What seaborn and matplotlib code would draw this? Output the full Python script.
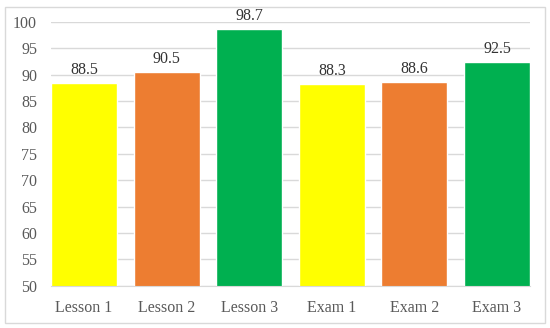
import matplotlib
matplotlib.use("Agg")
import matplotlib.pyplot as plt
import seaborn as sns
import pandas as pd
from matplotlib.patches import Rectangle

# Chart data
categories = ["Lesson 1", "Lesson 2", "Lesson 3", "Exam 1", "Exam 2", "Exam 3"]
scores = [88.5, 90.5, 98.7, 88.3, 88.6, 92.5]
bar_colors = ["#FFFF00", "#ED7D31", "#00B050", "#FFFF00", "#ED7D31", "#00B050"]
y_ticks = [50, 55, 60, 65, 70, 75, 80, 85, 90, 95, 100]

df = pd.DataFrame({"item": categories, "score": scores})

sns.set_style("white")
plt.rcParams["font.family"] = ["Liberation Serif", "DejaVu Serif"]

fig = plt.figure(figsize=(5.5, 3.28), dpi=100)
ax = fig.add_axes([0.0927, 0.129, 0.871, 0.804])

sns.barplot(data=df, x="item", y="score", hue="item", palette=bar_colors,
            legend=False, width=0.8, saturation=1, ax=ax)

# value labels
for c in ax.containers:
    ax.bar_label(c, fmt="%.1f", padding=3.5, fontsize=11.5, color="#333333")

ax.set_ylim(50, 100)
ax.set_yticks(y_ticks)
ax.set_xlim(-0.4, 5.4)
ax.set_xlabel("")
ax.set_ylabel("")
ax.yaxis.grid(True, color="#D9D9D9", linewidth=1)
ax.set_axisbelow(True)
for s in ["top", "right", "left"]:
    ax.spines[s].set_visible(False)
ax.spines["bottom"].set_color("#D9D9D9")
ax.tick_params(axis="both", length=0, labelsize=11.5, labelcolor="#595959")
ax.tick_params(axis="x", pad=10)
ax.tick_params(axis="y", pad=10)

# outer chart border
fig.patches.append(Rectangle((5 / 550, 5 / 328), 540 / 550, 316 / 328,
                             transform=fig.transFigure, fill=False,
                             edgecolor="#D9D9D9", linewidth=1))

fig.savefig("out.png", dpi=100)
